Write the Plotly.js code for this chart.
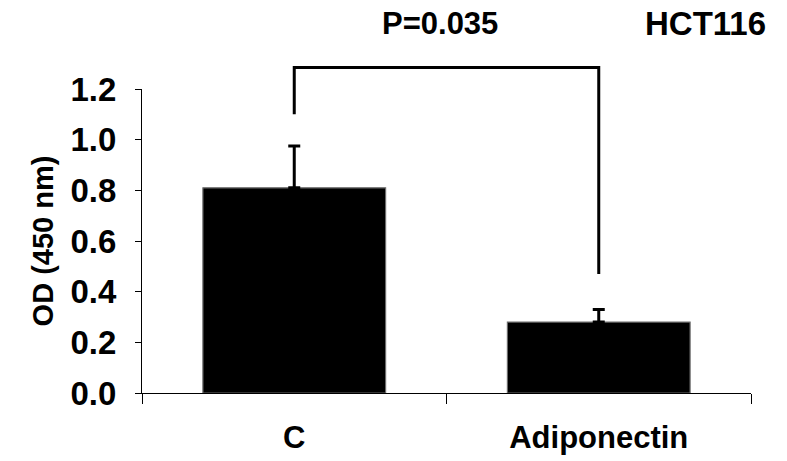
<!DOCTYPE html>
<html>
<head>
<meta charset="utf-8">
<script src="https://cdn.plot.ly/plotly-3.0.1.min.js"></script>
<style>
  html, body { margin: 0; padding: 0; background: #ffffff; }
  #chart { width: 787px; height: 461px; }
</style>
</head>
<body>
<div id="chart"></div>
<script>
// ---- data ----
var categories = ['C', 'Adiponectin'];
var odValues = [0.81, 0.28];
var errorPlus = [0.165, 0.05];
var errorMinus = [0, 0];
var yTickVals = [0, 0.2, 0.4, 0.6, 0.8, 1.0, 1.2];
var yMax = 1.2;
// significance bracket heights (data units): left leg bottom, top, right leg bottom
var bracketY = [1.10, 1.285, 0.47];
var pLabel = 'P=0.035';
var cellLine = 'HCT116';

var FONT = 'Liberation Sans, Arial, Helvetica, sans-serif';

var trace = {
  type: 'bar',
  x: categories,
  y: odValues,
  width: 0.6,
  marker: { color: '#000000', line: { color: '#6b6b6b', width: 1.2 } },
  error_y: {
    type: 'data',
    symmetric: false,
    array: errorPlus,
    arrayminus: errorMinus,
    color: '#000000',
    thickness: 3,
    width: 6
  },
  hoverinfo: 'skip'
};

function py(v) { return v / yMax; }

var layout = {
  width: 787,
  height: 461,
  margin: { l: 142, r: 36, t: 89, b: 68 },
  paper_bgcolor: '#ffffff',
  plot_bgcolor: '#ffffff',
  showlegend: false,
  font: { family: FONT, color: '#000000', weight: 'bold' },
  xaxis: {
    type: 'category',
    range: [-0.5, 1.5],
    showline: true,
    linecolor: '#000000',
    linewidth: 1,
    ticks: 'outside',
    tickson: 'boundaries',
    ticklen: 10,
    tickcolor: '#000000',
    tickwidth: 1,
    ticklabelstandoff: 17,
    tickfont: { family: FONT, size: 31, color: '#000000', weight: 'bold' },
    showgrid: false,
    zeroline: false,
    fixedrange: true
  },
  yaxis: {
    range: [0, yMax],
    tickvals: yTickVals,
    tickformat: '.1f',
    showline: true,
    linecolor: '#000000',
    linewidth: 1,
    ticks: 'outside',
    ticklen: 6,
    tickcolor: '#000000',
    tickwidth: 1,
    ticklabelstandoff: 12,
    tickfont: { family: FONT, size: 33, color: '#000000', weight: 'bold' },
    showgrid: false,
    zeroline: false,
    fixedrange: true,
    title: {
      text: 'OD (450 nm)',
      standoff: 8,
      font: { family: FONT, size: 29, color: '#000000', weight: 'bold' }
    }
  },
  shapes: [
    {
      type: 'path',
      xref: 'x',
      yref: 'paper',
      path: 'M 0,' + py(bracketY[0]) + ' L 0,' + py(bracketY[1]) +
            ' L 1,' + py(bracketY[1]) + ' L 1,' + py(bracketY[2]),
      line: { color: '#000000', width: 3 }
    }
  ],
  annotations: [
    {
      text: pLabel,
      xref: 'x', yref: 'paper',
      x: 0.48, y: 1.215,
      xanchor: 'center', yanchor: 'middle',
      showarrow: false,
      font: { family: FONT, size: 31, color: '#000000', weight: 'bold' }
    },
    {
      text: cellLine,
      xref: 'x', yref: 'paper',
      x: 1.352, y: 1.215,
      xanchor: 'center', yanchor: 'middle',
      showarrow: false,
      font: { family: FONT, size: 33, color: '#000000', weight: 'bold' }
    }
  ]
};

Plotly.newPlot('chart', [trace], layout, { displayModeBar: false, staticPlot: true });
</script>
</body>
</html>
